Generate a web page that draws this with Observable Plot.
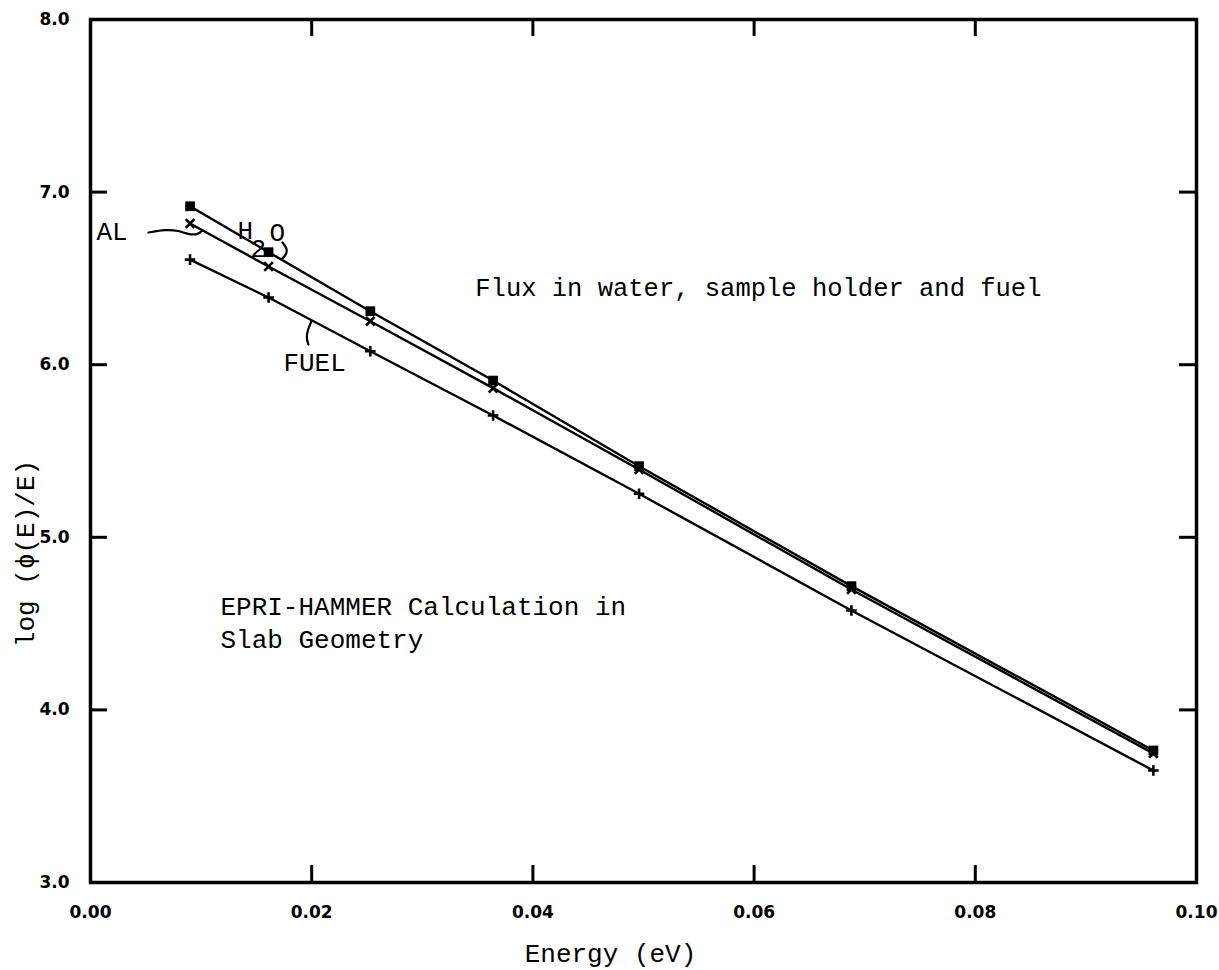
<!DOCTYPE html>
<html>
<head>
<meta charset="utf-8">
<script src="https://cdn.jsdelivr.net/npm/d3@7"></script>
<script src="https://cdn.jsdelivr.net/npm/@observablehq/plot@0.6"></script>
<style>
  html, body { margin: 0; padding: 0; background: #fff; }
  #chart svg { display: block; }
</style>
</head>
<body>
<div id="chart"></div>
<script>
// ---- data ----
const energy = [0.0090, 0.0161, 0.0253, 0.0364, 0.0496, 0.0688, 0.0961];
const h2o    = [6.918, 6.652, 6.310, 5.908, 5.412, 4.717, 3.765];
const al     = [6.818, 6.569, 6.252, 5.864, 5.393, 4.698, 3.748];
const fuel   = [6.609, 6.389, 6.078, 5.706, 5.252, 4.576, 3.649];

const xTickLabels = [0.00, 0.02, 0.04, 0.06, 0.08, 0.10];
const yTickLabels = [3.0, 4.0, 5.0, 6.0, 7.0, 8.0];
const xInnerTicks = [0.02, 0.04, 0.06, 0.08];
const yInnerTicks = [4.0, 5.0, 6.0, 7.0];

// annotation leader curves (data units)
const alLeaderX = [0.00524, 0.00678, 0.00795, 0.00886, 0.00976, 0.01012];
const alLeaderY = [6.766, 6.783, 6.778, 6.754, 6.754, 6.778];
const h2oCurlX  = [0.01735, 0.01780, 0.01771, 0.01726];
const h2oCurlY  = [6.708, 6.673, 6.638, 6.610];
const fuelCurlX = [0.01997, 0.01961, 0.01952, 0.01970];
const fuelCurlY = [6.250, 6.198, 6.152, 6.117];

const pts = (xs, ys) => xs.map((x, i) => ({x, y: ys[i]}));
const H2O = pts(energy, h2o), AL = pts(energy, al), FUEL = pts(energy, fuel);

const W = 1219, Hh = 970;
const mL = 90, mR = 23, mT = 19, mB = 88;
const plotW = W - mL - mR, plotH = Hh - mT - mB;
const tickLen = 17;
const mono = "'Liberation Mono', 'DejaVu Sans Mono', monospace";
const sans = "'DejaVu Sans', sans-serif";

const chart = Plot.plot({
  width: W, height: Hh,
  marginLeft: mL, marginRight: mR, marginTop: mT, marginBottom: mB,
  style: {background: "#fff", color: "#000"},
  x: {domain: [0, 0.10], axis: null},
  y: {domain: [3, 8], axis: null},
  marks: [
    // inward ticks on all four sides
    Plot.ruleX(xInnerTicks, {x: d => d, insetTop: plotH - tickLen, stroke: "#000", strokeWidth: 3}),
    Plot.ruleX(xInnerTicks, {x: d => d, insetBottom: plotH - tickLen, stroke: "#000", strokeWidth: 3}),
    Plot.ruleY(yInnerTicks, {y: d => d, insetRight: plotW - tickLen, stroke: "#000", strokeWidth: 3}),
    Plot.ruleY(yInnerTicks, {y: d => d, insetLeft: plotW - tickLen, stroke: "#000", strokeWidth: 3}),
    Plot.frame({stroke: "#000", strokeWidth: 3.5}),
    // tick labels
    Plot.text(xTickLabels, {x: d => d, frameAnchor: "bottom", dy: 30, text: d => d.toFixed(2),
      fontFamily: sans, fontWeight: "bold", fontSize: 17, lineAnchor: "middle", fill: "#000"}),
    Plot.text(yTickLabels, {y: d => d, frameAnchor: "left", dx: -21, text: d => d.toFixed(1),
      fontFamily: sans, fontWeight: "bold", fontSize: 17, textAnchor: "end", fill: "#000"}),
    // axis labels
    Plot.text(["Energy (eV)"], {frameAnchor: "bottom", dx: -33, dy: 71, text: d => d,
      fontFamily: mono, fontSize: 26, lineAnchor: "middle", fill: "#000"}),
    Plot.text([{y: 4.906, t: "log (\u03d5(E)/E)"}], {y: "y", frameAnchor: "left", dx: -65, rotate: -90, text: "t",
      textAnchor: "middle", fontFamily: mono, fontSize: 26, lineAnchor: "middle", fill: "#000"}),
    // series lines
    Plot.line(H2O, {x: "x", y: "y", stroke: "#000", strokeWidth: 2.4}),
    Plot.line(AL, {x: "x", y: "y", stroke: "#000", strokeWidth: 2.4}),
    Plot.line(FUEL, {x: "x", y: "y", stroke: "#000", strokeWidth: 2.4}),
    // markers
    Plot.dot(H2O, {x: "x", y: "y", symbol: "square", r: 5.5, fill: "#000"}),
    Plot.dot(AL, {x: "x", y: "y", symbol: "times", r: 4, stroke: "#000", strokeWidth: 2.6}),
    Plot.dot(FUEL, {x: "x", y: "y", symbol: "plus", r: 3.5, stroke: "#000", strokeWidth: 2.6}),
    // annotation leaders
    Plot.line(pts(alLeaderX, alLeaderY), {x: "x", y: "y", curve: "basis", stroke: "#000", strokeWidth: 2.2}),
    Plot.line(pts(h2oCurlX, h2oCurlY), {x: "x", y: "y", curve: "basis", stroke: "#000", strokeWidth: 2.2}),
    Plot.line(pts(fuelCurlX, fuelCurlY), {x: "x", y: "y", curve: "basis", stroke: "#000", strokeWidth: 2.2}),
    // annotation texts
    Plot.text([{x: 0.00054, y: 6.772, t: "AL"}], {x: "x", y: "y", text: "t", textAnchor: "start",
      fontFamily: mono, fontSize: 26, fill: "#000"}),
    Plot.text([{x: 0.01329, y: 6.778, t: "H"}], {x: "x", y: "y", text: "t", textAnchor: "start",
      fontFamily: mono, fontSize: 26, fill: "#000"}),
    Plot.text([{x: 0.01518, y: 6.673, t: "2"}], {x: "x", y: "y", text: "t",
      fontFamily: mono, fontSize: 26, fill: "#000"}),
    Plot.text([{x: 0.01690, y: 6.766, t: "O"}], {x: "x", y: "y", text: "t",
      fontFamily: mono, fontSize: 26, fill: "#000"}),
    Plot.text([{x: 0.01744, y: 6.014, t: "FUEL"}], {x: "x", y: "y", text: "t", textAnchor: "start",
      fontFamily: mono, fontSize: 26, fill: "#000"}),
    Plot.text([{x: 0.03479, y: 6.447, t: "Flux in water, sample holder and fuel"}], {x: "x", y: "y", text: "t",
      textAnchor: "start", fontFamily: mono, fontSize: 25.5, fill: "#000"}),
    Plot.text([{x: 0.01175, y: 4.599, t: "EPRI-HAMMER Calculation in"}], {x: "x", y: "y", text: "t",
      textAnchor: "start", fontFamily: mono, fontSize: 26, fill: "#000"}),
    Plot.text([{x: 0.01175, y: 4.408, t: "Slab Geometry"}], {x: "x", y: "y", text: "t",
      textAnchor: "start", fontFamily: mono, fontSize: 26, fill: "#000"})
  ]
});
document.getElementById("chart").appendChild(chart);
</script>
</body>
</html>
